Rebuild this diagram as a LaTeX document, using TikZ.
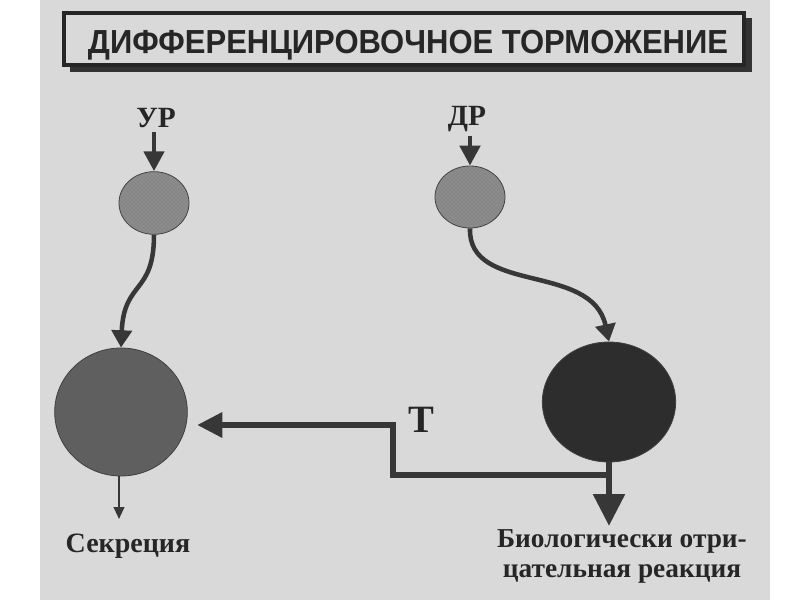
\documentclass[tikz,border=0pt]{standalone}
\usepackage{fontspec}
\setmainfont{Liberation Serif}
\newfontfamily\titlefont{Liberation Sans}
\usetikzlibrary{arrows.meta,shapes.geometric,patterns}
\definecolor{bg}{RGB}{217,217,217}
\definecolor{ink}{RGB}{55,55,55}
\definecolor{cellsmall}{RGB}{140,140,140}
\definecolor{cellleft}{RGB}{95,95,95}
\definecolor{cellright}{RGB}{45,45,45}
\tikzset{
  cell/.style={ellipse, inner sep=0pt, draw=black!75, line width=0.6pt},
  hatched/.style={fill=cellsmall, postaction={pattern=crosshatch dots, pattern color=black!55}},
  lbl/.style={font=\bfseries\fontsize{22}{26}\selectfont, inner sep=0pt, text=black!85},
  inarrow/.style={draw=ink, line width=3.6pt, -{Triangle[length=15pt,width=15pt]}},
  curvearrow/.style={draw=ink, line width=3.4pt, -{Triangle[length=13pt,width=15pt]}},
  tarrow/.style={draw=ink, line width=4.8pt, -{Triangle[length=19pt,width=18pt]}},
  outarrow/.style={draw=ink, line width=5pt, -{Triangle[length=24pt,width=23pt]}},
  thinarrow/.style={draw=ink, line width=1.5pt, -{Triangle[length=9pt,width=8pt]}},
}
\begin{document}
\begin{tikzpicture}[x=0.75pt,y=-0.75pt]
\useasboundingbox (0,0) rectangle (800,600);
\fill[white] (0,0) rectangle (800,600);
\fill[bg] (40,0) rectangle (770,600);
% title box
\fill[black!80] (70,18) rectangle (752,72);
\filldraw[fill=bg, draw=black!85, line width=2.4pt] (64,13) rectangle (744,65);
\node[font=\titlefont\bfseries\fontsize{25}{30}\selectfont, anchor=base, inner sep=0pt, text=black!85, xscale=0.93] (title) at (408,53) {ДИФФЕРЕНЦИРОВОЧНОЕ ТОРМОЖЕНИЕ};
% cells
\node[cell, hatched, minimum width=52.5pt, minimum height=47pt] (s1) at (154,203) {};
\node[cell, hatched, minimum width=52.5pt, minimum height=46.5pt] (s2) at (470,197) {};
\node[cell, fill=cellleft, minimum width=99.5pt, minimum height=96pt] (b1) at (121,412) {};
\node[cell, fill=cellright, minimum width=100pt, minimum height=90pt] (b2) at (609,402) {};
% labels
\node[lbl, anchor=base] (ur) at (156,127) {УР};
\node[lbl, anchor=base] (dr) at (467,125) {ДР};
\node[font=\bfseries\fontsize{29}{32}\selectfont, anchor=base, inner sep=0pt, text=black!85] (t) at (421,432) {Т};
\node[font=\bfseries\fontsize{21}{25}\selectfont, anchor=base, inner sep=0pt, text=black!85] (sec) at (128,552) {Секреция};
\node[font=\bfseries\fontsize{20.5}{22.5}\selectfont, anchor=north, align=center, inner sep=0pt, text=black!85] (bio) at (622,529) {Биологически отри-\\цательная реакция};
% coordinates
\coordinate (tj) at (611,475);
\coordinate (tk1) at (393,475);
\coordinate (tk2) at (393,425);
\coordinate (tin) at (197,425);
\coordinate (bt) at (609,526);
\coordinate (st) at (119,519);
% connectors
\draw[inarrow] ([yshift=-3pt]ur.south -| s1.north) -- (s1.north);
\draw[inarrow] ([yshift=-3pt]dr.south -| s2.north) -- (s2.north);
\draw[curvearrow] (s1.south) .. controls (154,295) and (124,280) .. (b1.north);
\draw[curvearrow] (s2.south) .. controls (468,295) and (592,262) .. (b2.north);
\draw[thinarrow] (b1.south -| st) -- (st);
\draw[outarrow] (b2.south) -- (bt);
\draw[tarrow, line join=miter] (tj) -- (tk1) -- (tk2) -- (tin);
\end{tikzpicture}
\end{document}
